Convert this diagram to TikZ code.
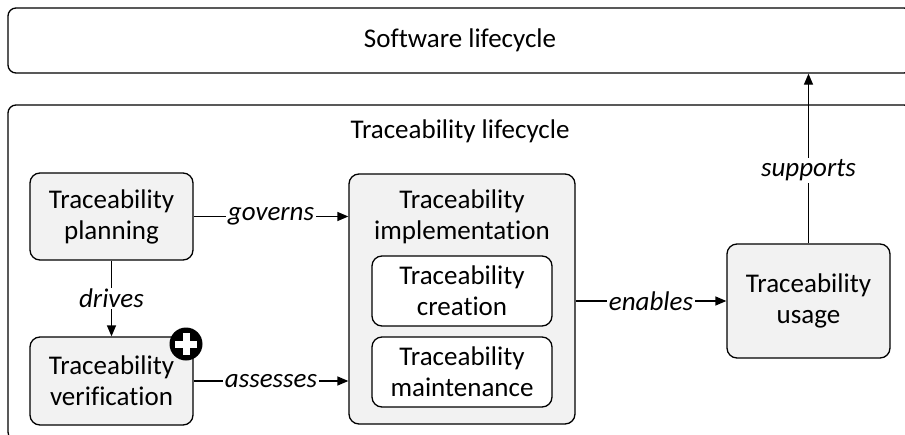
\documentclass[tikz,border=0pt]{standalone}
\usepackage{fontspec}
\setmainfont{Carlito}[Ligatures=NoCommon]
\usetikzlibrary{arrows.meta,calc}
\definecolor{boxgray}{HTML}{F2F2F2}
\tikzset{
  txt/.style={font=\fontsize{27}{31}\selectfont},
  frame/.style={draw, line width=1.3pt, rounded corners=8pt, inner sep=0pt},
  stage/.style={draw, line width=1.3pt, rounded corners=10pt, fill=boxgray,
    align=center, inner sep=0pt, txt},
  substage/.style={stage, fill=white, minimum width=180pt, minimum height=70pt},
  flow/.style={line width=1.3pt, -{Triangle[length=11pt,width=9pt]}},
  rel/.style={fill=white, inner sep=1.5pt, font={\fontsize{27}{31}\selectfont\itshape}},
  plain/.style={txt, inner sep=0pt, align=center}
}
\begin{document}
\begin{tikzpicture}[x=1pt,y=-1pt]
\useasboundingbox (0,0) rectangle (905,434);
\clip (0,0) rectangle (905,434);

% outer lifecycles
\node[frame, minimum width=904pt, minimum height=65pt] (sw) at (460,40.5) {};
\node[plain] (swlabel) at (460,40.5) {Software lifecycle};
\node[frame, minimum width=904pt, minimum height=335pt] (tl) at (460,272.5) {};
\node[plain] (tllabel) at (460,131) {Traceability lifecycle};

% stages
\node[stage, minimum width=163pt, minimum height=87pt] (plan) at (111.5,216.5) {Traceability\\planning};
\node[stage, minimum width=163pt, minimum height=88pt] (verif) at (111.5,381) {Traceability\\verification};
\node[stage, minimum width=226pt, minimum height=250pt] (impl) at (462,299) {};
\node[plain] (implhead) at (462,216.5) {Traceability\\implementation};
\node[substage] (create) at (462,291) {Traceability\\creation};
\node[substage] (maint) at (462,372) {Traceability\\maintenance};
\node[stage, minimum width=163pt, minimum height=114pt] (usage) at (808.5,301) {Traceability\\usage};

% plus marker on the verification stage
\node[circle, fill=black, minimum size=33pt, inner sep=0pt] (plus) at (186,344) {};
\fill[white] ($(plus.center)+(-11,-3.5)$) rectangle ($(plus.center)+(11,3.5)$);
\fill[white] ($(plus.center)+(-3.5,-11)$) rectangle ($(plus.center)+(3.5,11)$);

% relations
\draw[flow] (plan.east) -- (plan.east -| impl.west) node[rel, midway] {governs};
\draw[flow] (verif.east) -- (verif.east -| impl.west) node[rel, midway] {assesses};
\draw[flow] (plan.south) -- (verif.north) node[rel, midway] {drives};
\draw[flow] (impl.east |- usage.west) -- (usage.west) node[rel, midway] {enables};
\draw[flow] (usage.north) -- (usage.north |- sw.south) node[rel, pos=0.43] {supports};
\end{tikzpicture}
\end{document}
